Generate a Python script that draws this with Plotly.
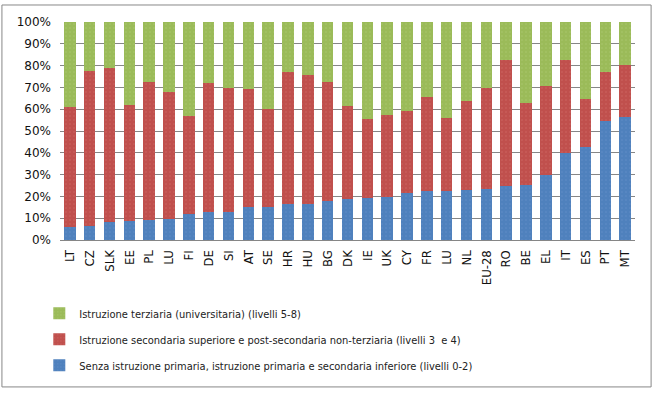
import plotly.graph_objects as go

countries = ["LT", "CZ", "SLK", "EE", "PL", "LU", "FI", "DE", "SI", "AT", "SE", "HR", "HU", "BG",
             "DK", "IE", "UK", "CY", "FR", "LU", "NL", "EU-28", "RO", "BE", "EL", "IT", "ES", "PT", "MT"]

low_edu = [6.1, 6.6, 8.4, 8.6, 9.2, 9.6, 12.1, 13.0, 13.0, 15.0, 15.3, 16.4, 16.5, 17.9,
           19.0, 19.3, 19.8, 21.6, 22.4, 22.7, 23.1, 23.3, 25.0, 25.3, 29.6, 40.0, 42.6, 54.8, 56.5]
mid_edu = [55.0, 71.0, 70.3, 53.1, 63.1, 58.5, 45.0, 59.1, 56.8, 54.4, 44.6, 60.6, 59.2, 54.7,
           42.6, 36.0, 37.6, 37.7, 43.3, 33.3, 40.8, 46.2, 57.7, 37.6, 41.2, 42.4, 22.2, 22.4, 23.9]
high_edu = [38.9, 22.4, 21.3, 38.3, 27.7, 31.9, 42.9, 27.9, 30.2, 30.6, 40.1, 23.0, 24.3, 27.4,
            38.4, 44.7, 42.6, 40.7, 34.3, 44.0, 36.1, 30.5, 17.3, 37.1, 29.2, 17.6, 35.2, 22.8, 19.6]

names = [
    "Senza istruzione primaria, istruzione primaria e secondaria inferiore (livelli 0-2)",
    "Istruzione secondaria superiore e post-secondaria non-terziaria (livelli 3  e 4)",
    "Istruzione terziaria (universitaria) (livelli 5-8)",
]
colors = ["#4F81BD", "#C0504D", "#9BBB59"]
dots = ["#6F9AD0", "#D77A77", "#B5CF80"]
ranks = [3, 2, 1]

NARROW = "Liberation Sans Narrow, Arial Narrow, DejaVu Sans Condensed, sans-serif"
WIDE = "DejaVu Sans, Verdana, sans-serif"
pos = list(range(len(countries)))

fig = go.Figure()
for i, (vals, name) in enumerate(zip([low_edu, mid_edu, high_edu], names)):
    fig.add_trace(go.Bar(
        x=pos, y=[v / 100 for v in vals], name=name,
        marker=dict(color=colors[i], line=dict(width=0),
                    pattern=dict(shape=".", fgcolor=dots[i], size=4, solidity=0.12)),
        legendgroup=f"g{i}", legendrank=ranks[i],
    ))

fig.update_layout(
    barmode="stack",
    bargap=0.42,
    width=655, height=393,
    margin=dict(l=60, r=20, t=22, b=153, autoexpand=False),
    paper_bgcolor="white", plot_bgcolor="white",
    font=dict(family=NARROW, size=12, color="#222"),
    xaxis=dict(tickmode="array", tickvals=pos, ticktext=countries, tickangle=-90,
               range=[-0.5, len(countries) - 0.5], showline=True, linecolor="#868686",
               ticks="", showgrid=False, automargin=False, ticklabelstandoff=4,
               tickfont=dict(family=NARROW, size=13, color="#111")),
    yaxis=dict(range=[0, 1], tickformat=".0%", dtick=0.1, showgrid=True,
               gridcolor="#868686", gridwidth=1, zeroline=False, showline=False,
               ticks="", automargin=False, ticklabelstandoff=8,
               tickfont=dict(family=WIDE, size=12, color="#111")),
    legend=dict(orientation="v", x=-0.036, xanchor="left", y=-0.27, yanchor="top",
                traceorder="grouped", tracegroupgap=7,
                font=dict(size=11, color="#222"), bgcolor="rgba(0,0,0,0)"),
    shapes=[dict(type="rect", xref="paper", yref="paper",
                 x0=-0.101, x1=1.028, y0=-0.674, y1=1.078,
                 line=dict(color="#888", width=1), fillcolor="rgba(0,0,0,0)", layer="below")],
)

fig.write_html("out.html", config={"displayModeBar": False},
               post_script="document.body.style.margin='0';")
